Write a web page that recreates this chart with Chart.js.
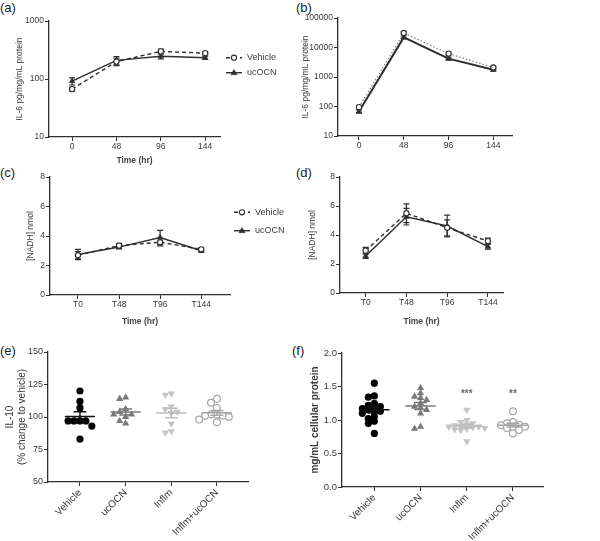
<!DOCTYPE html>
<html><head><meta charset="utf-8">
<script src="https://cdn.jsdelivr.net/npm/chart.js@4/dist/chart.umd.min.js"></script>
<style>
html,body{margin:0;padding:0;background:#fff;}
body{width:600px;height:541px;position:relative;overflow:hidden;font-family:'Liberation Sans',Arial,sans-serif;}
canvas{position:absolute;}
.lbl{position:absolute;font-size:13px;color:#222;line-height:15px;}
</style></head><body>
<div class="lbl" style="left:0;top:0">(a)</div>
<div class="lbl" style="left:296px;top:0">(b)</div>
<div class="lbl" style="left:0;top:165px">(c)</div>
<div class="lbl" style="left:296px;top:165px">(d)</div>
<div class="lbl" style="left:0;top:343px">(e)</div>
<div class="lbl" style="left:292px;top:343px">(f)</div>
<canvas id="ca"></canvas><canvas id="cb"></canvas>
<canvas id="cc"></canvas><canvas id="cd"></canvas>
<canvas id="ce"></canvas><canvas id="cf"></canvas>
<script>
// ---------------- data ----------------
const hours = [0, 48, 96, 144];
const timeLabels = ['T0', 'T48', 'T96', 'T144'];
const groups = ['Vehicle', 'ucOCN', 'Inflm', 'Inflm+ucOCN'];
const logTicksA = [10, 100, 1000];
const logTicksB = [10, 100, 1000, 10000, 100000];

// (a) IL-6, no inflammation
const il6Vehicle = [67, 200, 300, 280];
const il6VehicleErr = [5, 30, 28, 15];
const il6Ucocn = [92, 210, 248, 233];
const il6UcocnErr = [13, 35, 25, 15];
// (b) IL-6, inflammation
const il6Inflm = [95, 31000, 6200, 2100];
const il6InflmErr = [10, 3000, 700, 200];
const il6InflmUcocn = [68, 22000, 4200, 1750];
const il6InflmUcocnErr = [8, 2500, 500, 150];
// (c) NADH, no inflammation
const nadhVehicle = [2.7, 3.35, 3.58, 3.1];
const nadhVehicleErr = [0.25, 0.15, 0.25, 0.12];
const nadhUcocn = [2.75, 3.25, 3.9, 3.0];
const nadhUcocnErr = [0.35, 0.12, 0.48, 0.1];
// (d) NADH, inflammation
const nadhInflm = [2.92, 5.5, 4.5, 3.58];
const nadhInflmErr = [0.23, 0.65, 0.55, 0.2];
const nadhInflmUcocn = [2.55, 5.26, 4.62, 3.2];
const nadhInflmUcocnErr = [0.16, 0.57, 0.75, 0.17];
// (e) IL-10 (% change to vehicle)
const il10Vehicle = [120, 112, 107, 97, 97, 97, 97, 93, 83];
const il10Ucocn = [115, 114, 106, 104, 102, 102, 100, 97, 95];
const il10Inflm = [118, 117, 108, 106, 104, 103, 95, 89, 88];
const il10InflmUcocn = [114, 111, 107, 102, 102, 101, 101, 100, 98, 96];
// (f) mg/mL cellular protein
const protVehicle = [1.55, 1.36, 1.34, 1.25, 1.22, 1.20, 1.18, 1.17, 1.15, 1.13, 1.12, 1.10, 1.05, 1.02, 0.98, 0.95, 0.80];
const protUcocn = [1.48, 1.40, 1.35, 1.33, 1.30, 1.25, 1.20, 1.18, 1.15, 1.10, 0.90, 0.87];
const protInflm = [1.15, 1.00, 0.97, 0.95, 0.93, 0.92, 0.91, 0.90, 0.90, 0.89, 0.88, 0.87, 0.86, 0.85, 0.68];
const protInflmUcocn = [1.13, 0.97, 0.95, 0.93, 0.92, 0.90, 0.90, 0.88, 0.85, 0.80];
const protSig = ['', '', '***', '**'];
const protSigLevel = 1.38;

// ---------------- style ----------------
const FONT = "'Liberation Sans', Arial, Helvetica, sans-serif";
const INK = '#2e2e2e';
const TXT = '#3a3a3a';

// ---------------- plugins ----------------
const errorBarPlugin = {
  id: 'errbars',
  beforeDatasetsDraw(chart) {
    const ctx = chart.ctx, ys = chart.scales.y;
    chart.data.datasets.forEach((ds, di) => {
      if (!ds.errors) return;
      const meta = chart.getDatasetMeta(di);
      ctx.save();
      ctx.strokeStyle = ds.errColor || ds.borderColor;
      ctx.lineWidth = 1.2; ctx.setLineDash([]);
      meta.data.forEach((pt, i) => {
        const v = ds.data[i].y, e = ds.errors[i];
        const y1 = ys.getPixelForValue(v + e), y2 = ys.getPixelForValue(v - e);
        ctx.beginPath();
        ctx.moveTo(pt.x, y1); ctx.lineTo(pt.x, y2);
        ctx.moveTo(pt.x - 3, y1); ctx.lineTo(pt.x + 3, y1);
        ctx.moveTo(pt.x - 3, y2); ctx.lineTo(pt.x + 3, y2);
        ctx.stroke();
      });
      ctx.restore();
    });
  }
};

function marker(ctx, style, x, y, r, rot, fill, stroke, bw) {
  ctx.save();
  ctx.setLineDash([]);
  ctx.fillStyle = fill; ctx.strokeStyle = stroke; ctx.lineWidth = bw;
  ctx.beginPath();
  if (style === 'triangle') {
    const s = rot ? -1 : 1;
    ctx.moveTo(x, y - s * r);
    ctx.lineTo(x - r * 0.95, y + s * r * 0.6);
    ctx.lineTo(x + r * 0.95, y + s * r * 0.6);
    ctx.closePath();
  } else {
    ctx.arc(x, y, r, 0, Math.PI * 2);
  }
  ctx.fill(); if (bw > 0) ctx.stroke();
  ctx.restore();
}

const sideLegendPlugin = {
  id: 'sideLegend',
  afterDraw(chart, args, opts) {
    if (!opts || !opts.ys) return;
    const ctx = chart.ctx;
    chart.data.datasets.forEach((ds, i) => {
      const y = opts.ys[i];
      ctx.save();
      ctx.strokeStyle = ds.borderColor; ctx.lineWidth = ds.borderWidth;
      ctx.setLineDash(ds.borderDash || []);
      ctx.beginPath(); ctx.moveTo(opts.x1, y); ctx.lineTo(opts.x2, y); ctx.stroke();
      ctx.restore();
      marker(ctx, ds.pointStyle, (opts.x1 + opts.x2) / 2, y, ds.pointRadius, ds.pointRotation,
        ds.pointBackgroundColor, ds.pointBorderColor, ds.pointBorderWidth);
      ctx.save();
      ctx.fillStyle = TXT; ctx.font = '9px ' + FONT;
      ctx.textBaseline = 'middle'; ctx.textAlign = 'left';
      ctx.fillText(ds.label, opts.textX, y);
      ctx.restore();
    });
  }
};

const meanSemPlugin = {
  id: 'meanSem',
  afterDatasetsDraw(chart, args, opts) {
    if (!opts || !opts.enabled) return;
    const ctx = chart.ctx, xs = chart.scales.x, ys = chart.scales.y;
    chart.data.datasets.forEach(ds => {
      const v = ds.data.map(d => d.y), n = v.length;
      const m = v.reduce((a, b) => a + b, 0) / n;
      const sd = Math.sqrt(v.reduce((a, b) => a + (b - m) * (b - m), 0) / (n - 1));
      const se = sd / Math.sqrt(n);
      const cx = xs.getPixelForValue(ds.center);
      const hw = xs.getPixelForValue(ds.center + 0.33) - cx;
      const cw = xs.getPixelForValue(ds.center + 0.14) - cx;
      const ym = ys.getPixelForValue(m), yt = ys.getPixelForValue(m + se), yb = ys.getPixelForValue(m - se);
      ctx.save();
      ctx.strokeStyle = ds.meanColor; ctx.lineWidth = 1.5;
      ctx.beginPath();
      ctx.moveTo(cx - hw, ym); ctx.lineTo(cx + hw, ym);
      ctx.moveTo(cx, yt); ctx.lineTo(cx, yb);
      ctx.moveTo(cx - cw, yt); ctx.lineTo(cx + cw, yt);
      ctx.moveTo(cx - cw, yb); ctx.lineTo(cx + cw, yb);
      ctx.stroke();
      ctx.restore();
    });
    if (opts.sig) {
      ctx.save();
      ctx.fillStyle = '#6a6a6a'; ctx.font = 'bold 10px ' + FONT;
      ctx.textAlign = 'center'; ctx.textBaseline = 'middle';
      opts.sig.forEach((s, i) => { if (s) ctx.fillText(s, xs.getPixelForValue(i), ys.getPixelForValue(opts.sigLevel)); });
      ctx.restore();
    }
  }
};

// ---------------- helpers ----------------
function swarm(vals, center, thr, step) {
  const order = vals.map((v, i) => i).sort((a, b) => vals[b] - vals[a]);
  const placed = [], xs = new Array(vals.length);
  const cands = [0];
  for (let j = 1; j < 12; j++) cands.push(-j * step, j * step);
  for (const i of order) {
    let off = 0;
    for (const c of cands) {
      const ok = placed.every(p => {
        const dx = (p.x - c) / step, dy = (p.y - vals[i]) / thr;
        return dx * dx + dy * dy >= 0.95;
      });
      if (ok) { off = c; break; }
    }
    placed.push({ x: off, y: vals[i] });
    xs[i] = center + off;
  }
  return vals.map((v, i) => ({ x: xs[i], y: v }));
}

function axis(extra) {
  const base = {
    border: { display: true, color: INK, width: 1.3 },
    grid: { drawOnChartArea: false, drawTicks: true, tickLength: 4, color: INK, lineWidth: 1 },
    ticks: { color: TXT, font: { family: FONT, size: 8.5 }, padding: 1, autoSkip: false }
  };
  return Object.assign(base, extra);
}

function mk(id, geo, type, datasets, xScale, yScale, plugOpts) {
  const cv = document.getElementById(id);
  cv.width = geo.cw; cv.height = geo.ch;
  cv.style.left = geo.cl + 'px'; cv.style.top = geo.ct + 'px';
  xScale.afterFit = s => { s.height = geo.ct + geo.ch - geo.b; };
  yScale.afterFit = s => { s.width = geo.l - geo.cl; };
  return new Chart(cv, {
    type,
    data: { datasets },
    options: {
      responsive: false, animation: false, devicePixelRatio: 1,
      layout: { autoPadding: false, padding: { left: 0, top: geo.t - geo.ct, right: geo.cl + geo.cw - geo.r, bottom: 0 } },
      plugins: Object.assign({ legend: { display: false }, tooltip: { enabled: false } }, plugOpts),
      scales: { x: xScale, y: yScale }
    },
    plugins: [errorBarPlugin, sideLegendPlugin, meanSemPlugin]
  });
}

function lineDs(label, xs, ys, errs, st) {
  return Object.assign({
    label, data: ys.map((y, i) => ({ x: xs[i], y })), errors: errs,
    borderColor: INK, borderWidth: 1.4, fill: false, tension: 0,
    pointRadius: 2.6, pointBorderWidth: 1.1, pointRotation: 0,
    pointBorderColor: INK
  }, st);
}
const openCircle = { pointStyle: 'circle', pointBackgroundColor: '#fff' };
const solidTri = { pointStyle: 'triangle', pointBackgroundColor: INK, pointRadius: 3.3, pointBorderWidth: 0.5 };

const tickFont = { family: FONT, size: 8.5 };
function xTimeAxis(min, max, labels, title, titlePad) {
  return axis({
    type: 'linear', min, max,
    afterBuildTicks: s => { s.ticks = hours.map((h, i) => ({ value: labels ? i : h })); },
    ticks: { color: TXT, font: tickFont, padding: 1, autoSkip: false,
      maxRotation: 0, minRotation: 0,
      callback: v => labels ? labels[v] : String(v) },
    title: title ? { display: true, text: title, color: '#444', font: { family: FONT, size: 8.5, weight: 'bold' }, padding: { top: 0, bottom: titlePad } } : { display: false }
  });
}
function yTitle(text, size, pad, weight) {
  return { display: true, text, color: '#3a3a3a', font: { family: FONT, size, weight: weight || 'normal' }, padding: { top: pad, bottom: 0 } };
}

// ---------------- (a) ----------------
mk('ca', { cl: 0, ct: 15, cw: 300, ch: 155, l: 49, t: 21, r: 220, b: 137 }, 'line', [
  lineDs('Vehicle', hours, il6Vehicle, il6VehicleErr, Object.assign({ borderDash: [4, 3] }, openCircle)),
  lineDs('ucOCN', hours, il6Ucocn, il6UcocnErr, solidTri)
], xTimeAxis(-25, 160, null, 'Time (hr)', 4),
  axis({ type: 'logarithmic', min: 10, max: 1000,
    afterBuildTicks: s => { s.ticks = logTicksA.map(v => ({ value: v })); },
    ticks: { color: TXT, font: tickFont, padding: 1, autoSkip: false, callback: v => String(v) },
    title: yTitle('IL-6 pg/mg/mL protein', 8.5, 15) }),
  { sideLegend: { x1: 226, x2: 242, textX: 247, ys: [57.7 - 15, 72.7 - 15] } });

// ---------------- (b) ----------------
mk('cb', { cl: 300, ct: 10, cw: 300, ch: 148, l: 338, t: 18, r: 512, b: 136 }, 'line', [
  lineDs('Inflm', hours, il6Inflm, il6InflmErr, Object.assign({ borderDash: [1.5, 2], borderColor: '#777', borderWidth: 1.1, errColor: '#555' }, openCircle)),
  lineDs('Inflm + ucOCN', hours, il6InflmUcocn, il6InflmUcocnErr, Object.assign({ borderWidth: 2 }, solidTri))
], xTimeAxis(-22.5, 164, null, null, 0),
  axis({ type: 'logarithmic', min: 10, max: 100000,
    afterBuildTicks: s => { s.ticks = logTicksB.map(v => ({ value: v })); },
    ticks: { color: TXT, font: tickFont, padding: 1, autoSkip: false, callback: v => String(v) },
    title: yTitle('IL-6 pg/mg/mL protein', 8.5, 1) }),
  { sideLegend: { x1: 508, x2: 521, textX: 527, ys: [43.3 - 10, 57.3 - 10] } });

// ---------------- (c) ----------------
mk('cc', { cl: 0, ct: 170, cw: 300, ch: 160, l: 50, t: 177, r: 230, b: 295 }, 'line', [
  lineDs('Vehicle', [0, 1, 2, 3], nadhVehicle, nadhVehicleErr, Object.assign({ borderDash: [4, 3] }, openCircle)),
  lineDs('ucOCN', [0, 1, 2, 3], nadhUcocn, nadhUcocnErr, solidTri)
], xTimeAxis(-0.68, 3.7, timeLabels, 'Time (hr)', 3),
  axis({ type: 'linear', min: 0, max: 8,
    ticks: { color: TXT, font: tickFont, padding: 1, stepSize: 2 },
    title: yTitle('[NADH] nmol', 8.5, 26) }),
  { sideLegend: { x1: 234, x2: 250, textX: 255, ys: [212.3 - 170, 230.7 - 170] } });

// ---------------- (d) ----------------
mk('cd', { cl: 300, ct: 170, cw: 300, ch: 160, l: 340, t: 177, r: 503, b: 293 }, 'line', [
  lineDs('Inflm', [0, 1, 2, 3], nadhInflm, nadhInflmErr, Object.assign({ borderDash: [4, 3] }, openCircle)),
  lineDs('Inflm + ucOCN', [0, 1, 2, 3], nadhInflmUcocn, nadhInflmUcocnErr, solidTri)
], xTimeAxis(-0.63, 3.37, timeLabels, 'Time (hr)', 3),
  axis({ type: 'linear', min: 0, max: 8,
    ticks: { color: TXT, font: tickFont, padding: 1, stepSize: 2 },
    title: yTitle('[NADH] nmol', 8.5, 8) }),
  { sideLegend: { x1: 508, x2: 522, textX: 527, ys: [207.7 - 170, 219 - 170] } });

// ---------------- scatter panels ----------------
function scatterSets(series, thr) {
  const styles = [
    { pointStyle: 'circle', pointRotation: 0, pointBackgroundColor: '#000', pointBorderColor: '#000', pointRadius: 3.6, pointBorderWidth: 0, meanColor: '#111' },
    { pointStyle: 'triangle', pointRotation: 0, pointBackgroundColor: '#7a7a7a', pointBorderColor: '#7a7a7a', pointRadius: 4.2, pointBorderWidth: 0, meanColor: '#7a7a7a' },
    { pointStyle: 'triangle', pointRotation: 180, pointBackgroundColor: '#c4c4c4', pointBorderColor: '#c4c4c4', pointRadius: 4.2, pointBorderWidth: 0, meanColor: '#bdbdbd' },
    { pointStyle: 'circle', pointRotation: 0, pointBackgroundColor: '#fff', pointBorderColor: '#a6a6a6', pointRadius: 3.4, pointBorderWidth: 1.2, meanColor: '#a6a6a6' }
  ];
  return series.map((vals, i) => Object.assign({
    label: groups[i], center: i, data: swarm(vals, i, thr, 0.13), showLine: false
  }, styles[i]));
}
function xGroupAxis(min, max) {
  return axis({
    type: 'linear', min, max,
    afterBuildTicks: s => { s.ticks = groups.map((g, i) => ({ value: i })); },
    ticks: { color: TXT, font: { family: FONT, size: 10 }, padding: 1, autoSkip: false,
      maxRotation: 45, minRotation: 45, callback: v => groups[v] }
  });
}

// (e)
mk('ce', { cl: 0, ct: 345, cw: 300, ch: 196, l: 48, t: 352, r: 248, b: 482 }, 'scatter',
  scatterSets([il10Vehicle, il10Ucocn, il10Inflm, il10InflmUcocn], 4.5),
  xGroupAxis(-0.7, 3.68),
  axis({ type: 'linear', min: 50, max: 150,
    ticks: { color: TXT, font: { family: FONT, size: 9 }, padding: 1, stepSize: 25 },
    title: { display: true, text: ['IL-10', '(% change to vehicle)'], color: '#3a3a3a', font: { family: FONT, size: 10 }, padding: { top: 4, bottom: 0 } } }),
  { meanSem: { enabled: true } });

// (f)
mk('cf', { cl: 300, ct: 345, cw: 300, ch: 196, l: 342, t: 353, r: 543, b: 487 }, 'scatter',
  scatterSets([protVehicle, protUcocn, protInflm, protInflmUcocn], 0.055),
  xGroupAxis(-0.7, 3.65),
  axis({ type: 'linear', min: 0, max: 2,
    ticks: { color: TXT, font: { family: FONT, size: 9.5 }, padding: 1, stepSize: 0.5, callback: v => v.toFixed(1) },
    title: yTitle('mg/mL cellular protein', 10, 9, 'bold') }),
  { meanSem: { enabled: true, sig: protSig, sigLevel: protSigLevel } });
</script>
</body></html>
